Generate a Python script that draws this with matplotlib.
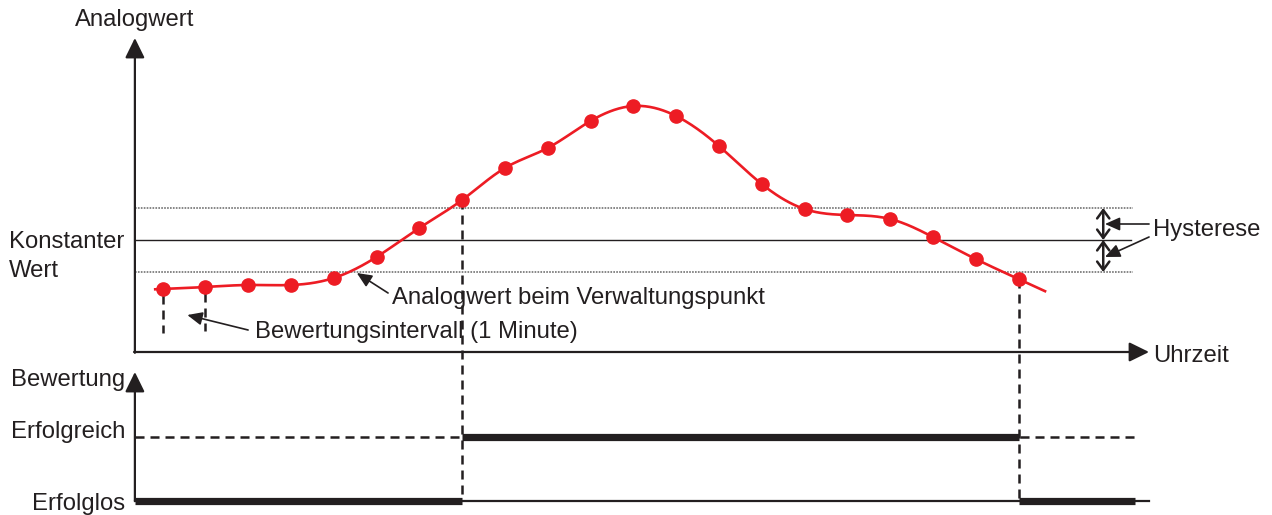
import numpy as np
import matplotlib
matplotlib.use("Agg")
import matplotlib.pyplot as plt

plt.rcParams['font.family'] = ['Liberation Sans', 'DejaVu Sans']
plt.rcParams['lines.scale_dashes'] = False

# ---------------- data ----------------
minutes = list(range(21))                       # evaluation interval, 1 minute each
analog = [31.5, 32.5, 33.5, 33.5, 37, 47.5, 62, 76, 92, 102, 115.5, 123,
          118, 103, 84, 71.5, 68.5, 66.5, 57.5, 46.5, 36.5]
constant_value = 56
hysteresis = 16
switch_minutes = [7, 20]        # minute where evaluation changes
eval_states = [0, 1, 0]         # 0 = Erfolglos, 1 = Erfolgreich
y_labels = ["Erfolglos", "Erfolgreich"]

# ---------------- layout ----------------
fig = plt.figure(figsize=(12.72, 5.15), dpi=100)
ax = fig.add_axes([0, 0, 1, 1])
ax.set_xlim(-162.5 / 42.8, (1272 - 162.5) / 42.8)
ax.set_ylim(-81.5, 176)
ax.axis('off')

INK = '#231f20'
RED = '#ed1c24'
FS = 17.2
x0, x_tip, x_lines = -0.645, 23.05, 22.72
y0, y_tip = 0, 157
ev_levels = {0: -74.5, 1: -42.5}
ev_tip = -10
dash = (0, (6.5, 4.3))

axis_arr = dict(arrowstyle='-|>,head_length=0.55,head_width=0.27', lw=1.6,
                color=INK, mutation_scale=22, shrinkA=0, shrinkB=0)
# axes with arrows
ax.annotate('', xy=(x0, y_tip), xytext=(x0, y0 - 0.4), arrowprops=axis_arr)
ax.annotate('', xy=(x_tip, y0), xytext=(x0 - 0.02, y0), arrowprops=axis_arr)
ax.annotate('', xy=(x0, ev_tip), xytext=(x0, ev_levels[0]), arrowprops=axis_arr)

# constant value and hysteresis band
ax.plot([x0, x_lines - 0.1], [constant_value] * 2, color=INK, lw=1.0)
for yy in (constant_value + hysteresis, constant_value - hysteresis):
    ax.plot([x0, x_lines - 0.05], [yy] * 2, color='#666666', lw=1.1,
            linestyle=(0, (1.2, 0.9)))

# smooth curve through the sample points (natural cubic spline)
xs = np.array(minutes, float)
ys = np.array(analog, float)
n = len(xs)
A = np.zeros((n, n)); b = np.zeros(n)
A[0, 0] = A[-1, -1] = 1
for i in range(1, n - 1):
    A[i, i - 1], A[i, i], A[i, i + 1] = 1, 4, 1
    b[i] = 6 * (ys[i + 1] - 2 * ys[i] + ys[i - 1])
M = np.linalg.solve(A, b)
def spline(t):
    i = np.clip(np.floor(t).astype(int), 0, n - 2)
    u = t - xs[i]
    a0 = ys[i]
    a1 = (ys[i + 1] - ys[i]) - (2 * M[i] + M[i + 1]) / 6
    a2 = M[i] / 2
    a3 = (M[i + 1] - M[i]) / 6
    return a0 + a1 * u + a2 * u ** 2 + a3 * u ** 3
tt = np.linspace(-0.17, 20.62, 600)
ax.plot(tt, spline(tt), color=RED, lw=1.9, zorder=4)
ax.plot(xs, ys, 'o', color=RED, ms=9.5, zorder=5)

# evaluation signal
ax.plot([x0, x_tip], [ev_levels[0]] * 2, color=INK, lw=1.6)
ax.plot([x0, x_lines], [ev_levels[1]] * 2, color=INK, lw=1.8, linestyle=dash)
edges = [x0] + switch_minutes + [x_lines]
for k, st in enumerate(eval_states):
    ax.plot([edges[k], edges[k + 1]], [ev_levels[st]] * 2, color=INK,
            lw=5.2, solid_capstyle='butt', zorder=3)

# vertical dashed lines at switching points
for m in switch_minutes:
    ax.plot([m, m], [analog[m], ev_levels[0]], color=INK, lw=1.8,
            linestyle=dash, zorder=2)
# evaluation-interval marks
for m in minutes[:2]:
    ax.plot([m, m], [analog[m] - 3, analog[m] - 22], color=INK, lw=1.8,
            linestyle=dash, zorder=2)

# hysteresis double arrows
hx = 21.98
for lo, hi in ((constant_value, constant_value + hysteresis),
               (constant_value - hysteresis, constant_value)):
    ax.annotate('', xy=(hx, hi), xytext=(hx, lo),
                arrowprops=dict(arrowstyle='<->,head_length=0.3,head_width=0.22',
                                lw=1.8, color=INK, mutation_scale=20,
                                shrinkA=0, shrinkB=0))

arr = dict(arrowstyle='-|>,head_length=0.45,head_width=0.2', lw=1.2,
           color=INK, mutation_scale=20, shrinkA=0, shrinkB=0)
ax.annotate('', xy=(22.02, 64), xytext=(23.05, 64), arrowprops=arr)
ax.annotate('', xy=(22.02, 47.5), xytext=(23.05, 57.5), arrowprops=arr)
ax.annotate('', xy=(4.54, 39.5), xytext=(5.27, 29.5), arrowprops=arr)
ax.annotate('', xy=(0.58, 18.5), xytext=(2.0, 11), arrowprops=arr)

# texts
def T(x, y, s, ha='left'):
    ax.text(x, y, s, fontsize=FS, color=INK, ha=ha, va='baseline')

T(x0, 163, "Analogwert", ha='center')
T(-3.58, 52, "Konstanter")
T(-3.58, 37.5, "Wert")
T(23.15, 58, "Hysterese")
T(5.37, 24, "Analogwert beim Verwaltungspunkt")
T(2.16, 7, "Bewertungsintervall (1 Minute)")
T(23.15, -5, "Uhrzeit")
T(-0.88, -17, "Bewertung", ha='right')
T(x0 - 0.22, -43, y_labels[1], ha='right')
T(x0 - 0.22, -79, y_labels[0], ha='right')

fig.savefig("out.png", dpi=100)
